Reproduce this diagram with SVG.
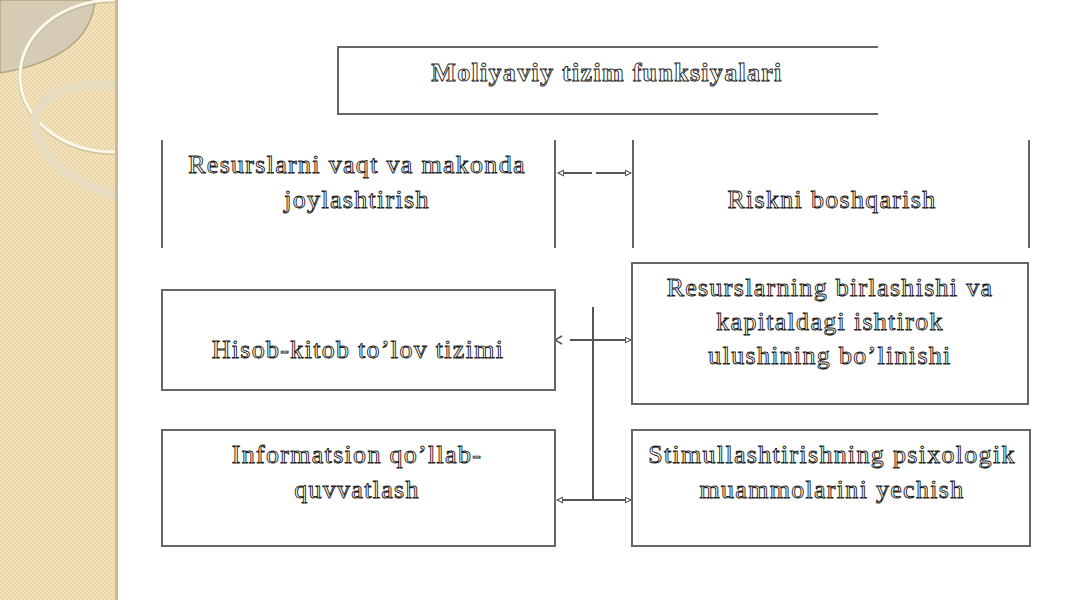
<svg xmlns="http://www.w3.org/2000/svg" width="1067" height="600" viewBox="0 0 1067 600">
<defs>
<pattern id="chk" width="4" height="4" patternUnits="userSpaceOnUse">
<rect width="4" height="4" fill="#f3e2ba"/>
<rect width="2" height="2" fill="#ead7a9"/>
<rect x="2" y="2" width="2" height="2" fill="#ead7a9"/>
</pattern>
<clipPath id="pc"><rect x="0" y="0" width="116" height="600"/></clipPath>
<marker id="ar" viewBox="0 0 10 10" refX="9" refY="5" markerWidth="7" markerHeight="7" orient="auto-start-reverse" markerUnits="userSpaceOnUse">
<path d="M1,1 L9,5 L1,9 Z" fill="#fff" stroke="#555" stroke-width="1.5"/>
</marker>
<style>
.box{fill:#fff;stroke:#666;stroke-width:2}
.ln{fill:none;stroke:#666;stroke-width:2}
.cn{fill:none;stroke:#555;stroke-width:2}
.t{font-family:"Liberation Serif","Times New Roman",serif;font-size:26px;letter-spacing:1.3px;fill:#fff;stroke:#1a1a1a;stroke-width:0.9;text-anchor:middle}
.tb{font-weight:bold}
</style>
</defs>
<rect width="1067" height="600" fill="#fff"/>
<g id="panel">
<rect x="0" y="0" width="117" height="600" fill="url(#chk)"/>
<g clip-path="url(#pc)">
<path d="M0,0 L95,0 Q90,58 0,73 Z" fill="#d6ccb6" stroke="#b3a584" stroke-width="1.5"/>
<ellipse cx="113" cy="77" rx="93" ry="76" fill="none" stroke="#a99f8a" stroke-width="4" opacity="0.45"/>
<ellipse cx="113" cy="76" rx="93" ry="76" fill="none" stroke="#fdf8ea" stroke-width="3"/>
<ellipse cx="125" cy="143" rx="93" ry="53" transform="rotate(18 125 143)" fill="none" stroke="#e6dbc0" stroke-width="10" opacity="0.9"/>
</g>
<rect x="115" y="0" width="3" height="600" fill="#c9b994"/>
</g>
<g id="connectors">
<line class="cn" x1="592" y1="173" x2="558" y2="173" marker-end="url(#ar)"/>
<line class="cn" x1="596" y1="173" x2="631" y2="173" marker-end="url(#ar)"/>
<line class="cn" x1="593" y1="307" x2="593" y2="501"/>
<line class="cn" x1="593" y1="340" x2="631" y2="340" marker-end="url(#ar)"/>
<line class="cn" x1="593" y1="340" x2="570" y2="340"/>
<path d="M562,336 L555,340 L562,344" fill="none" stroke="#555" stroke-width="1.5"/>
<line class="cn" x1="593" y1="500" x2="557" y2="500" marker-end="url(#ar)"/>
<line class="cn" x1="593" y1="500" x2="631" y2="500" marker-end="url(#ar)"/>
</g>
<g id="title">
<path class="ln" d="M878,47 H338 V114 H878"/>
<text class="t tb" x="607" y="81">Moliyaviy tizim funksiyalari</text>
</g>
<g id="n1">
<line class="ln" x1="162" y1="140" x2="162" y2="248"/>
<line class="ln" x1="555" y1="140" x2="555" y2="248"/>
<text class="t" x="357" y="173">Resurslarni vaqt va makonda</text>
<text class="t" x="357" y="208">joylashtirish</text>
</g>
<g id="n2">
<line class="ln" x1="633" y1="140" x2="633" y2="248"/>
<line class="ln" x1="1029" y1="140" x2="1029" y2="248"/>
<text class="t" x="832" y="208">Riskni boshqarish</text>
</g>
<g id="n3">
<rect class="box" x="162" y="290" width="393" height="100"/>
<text class="t" x="358" y="358">Hisob-kitob to’lov tizimi</text>
</g>
<g id="n4">
<rect class="box" x="632" y="263" width="396" height="141"/>
<text class="t" x="830" y="296">Resurslarning birlashishi va</text>
<text class="t" x="830" y="330">kapitaldagi ishtirok</text>
<text class="t" x="830" y="364">ulushining bo’linishi</text>
</g>
<g id="n5">
<rect class="box" x="162" y="430" width="393" height="116"/>
<text class="t" x="357" y="463">Informatsion qo’llab-</text>
<text class="t" x="357" y="498">quvvatlash</text>
</g>
<g id="n6">
<rect class="box" x="632" y="430" width="398" height="116"/>
<text class="t" x="832" y="463">Stimullashtirishning psixologik</text>
<text class="t" x="832" y="498">muammolarini yechish</text>
</g>
</svg>
